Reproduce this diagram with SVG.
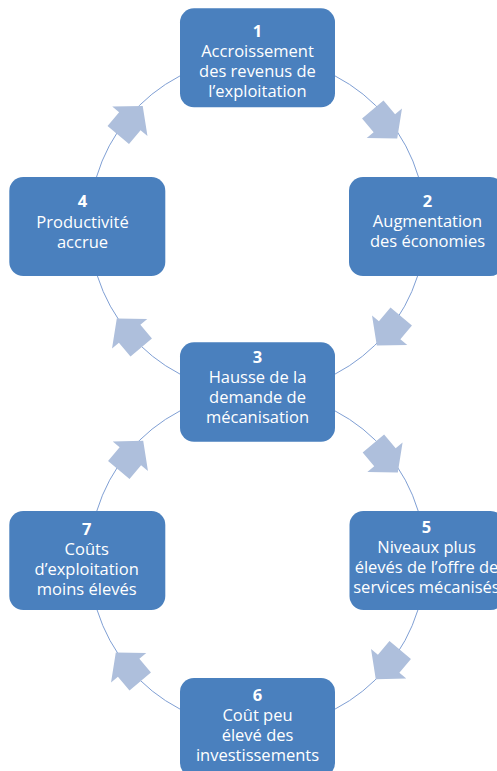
<svg xmlns="http://www.w3.org/2000/svg" xmlns:xlink="http://www.w3.org/1999/xlink" width="497" height="771" viewBox="0 0 497 771">
  <style>
    .box { fill: #4a80be; }
    .t { font-family: "Open Sans", "Noto Sans", "DejaVu Sans", sans-serif; font-size: 16.5px; fill: #ffffff; text-anchor: middle; }
    .n { font-weight: bold; }
    .arc { fill: none; stroke: #7f9fd4; stroke-width: 1; }
    .arr { fill: #aebfdc; }
  </style>
  <defs>
    <path id="arrow" class="arr" d="M19,0 L-1,-23 L-1,-14 L-19,-14 L-19,14 L-1,14 L-1,23 Z"/>
  </defs>
  <rect width="497" height="771" fill="#ffffff"/>

  <g id="connectors">
    <path class="arc" d="M335,75.9 A168,168 0 0,1 418.5,177"/>
    <path class="arc" d="M417.6,276 A168,168 0 0,1 335,374.1"/>
    <path class="arc" d="M180,374.1 A168,168 0 0,1 97.4,276"/>
    <path class="arc" d="M96.5,177 A168,168 0 0,1 180,75.9"/>
    <path class="arc" d="M335,410.9 A168,168 0 0,1 418.2,511"/>
    <path class="arc" d="M417.9,610 A168,168 0 0,1 335,709.1"/>
    <path class="arc" d="M180,709.1 A168,168 0 0,1 97.1,610"/>
    <path class="arc" d="M96.8,511 A168,168 0 0,1 180,410.9"/>
    <use xlink:href="#arrow" href="#arrow" transform="translate(385,124) rotate(50)"/>
    <use xlink:href="#arrow" href="#arrow" transform="translate(389,331) rotate(130)"/>
    <use xlink:href="#arrow" href="#arrow" transform="translate(129,333) rotate(-130)"/>
    <use xlink:href="#arrow" href="#arrow" transform="translate(130.5,120.5) rotate(-50)"/>
    <use xlink:href="#arrow" href="#arrow" transform="translate(385.6,458) rotate(50)"/>
    <use xlink:href="#arrow" href="#arrow" transform="translate(388,664.6) rotate(130)"/>
    <use xlink:href="#arrow" href="#arrow" transform="translate(128,667) rotate(-130)"/>
    <use xlink:href="#arrow" href="#arrow" transform="translate(131,455.4) rotate(-50)"/>
  </g>

  <g id="node1">
    <rect class="box" x="180" y="8.3" width="155" height="99" rx="14"/>
    <text class="t n" x="257.5" y="36.7">1</text>
    <text class="t" x="257.5" y="57">Accroissement</text>
    <text class="t" x="257.5" y="77">des revenus de</text>
    <text class="t" x="257.5" y="96.7">l’exploitation</text>
  </g>
  <g id="node2">
    <rect class="box" x="349" y="177" width="155" height="99" rx="14"/>
    <text class="t n" x="427.5" y="207.3">2</text>
    <text class="t" x="427.5" y="227.3">Augmentation</text>
    <text class="t" x="427.5" y="247.3">des économies</text>
  </g>
  <g id="node3">
    <rect class="box" x="180" y="342.3" width="155" height="99.5" rx="14"/>
    <text class="t n" x="257.5" y="363.3">3</text>
    <text class="t" x="257.5" y="383.3">Hausse de la</text>
    <text class="t" x="257.5" y="403.3">demande de</text>
    <text class="t" x="257.5" y="423.3">mécanisation</text>
  </g>
  <g id="node4">
    <rect class="box" x="9.3" y="177" width="156" height="99" rx="14"/>
    <text class="t n" x="82.5" y="207.3">4</text>
    <text class="t" x="82.5" y="228">Productivité</text>
    <text class="t" x="82.5" y="248">accrue</text>
  </g>
  <g id="node5">
    <rect class="box" x="349.5" y="511" width="155" height="99" rx="14"/>
    <text class="t n" x="426.5" y="533.3">5</text>
    <text class="t" x="426.5" y="553.3">Niveaux plus</text>
    <text class="t" x="426.5" y="573.3">élevés de l’offre de</text>
    <text class="t" x="426.5" y="593.3">services mécanisés</text>
  </g>
  <g id="node6">
    <rect class="box" x="180" y="678" width="155" height="99" rx="14"/>
    <text class="t n" x="257.5" y="700.7">6</text>
    <text class="t" x="257.5" y="721">Coût peu</text>
    <text class="t" x="257.5" y="741">élevé des</text>
    <text class="t" x="257.5" y="761">investissements</text>
  </g>
  <g id="node7">
    <rect class="box" x="9.3" y="511" width="156" height="99" rx="14"/>
    <text class="t n" x="86.7" y="535">7</text>
    <text class="t" x="86.7" y="555">Coûts</text>
    <text class="t" x="86.7" y="575">d’exploitation</text>
    <text class="t" x="86.7" y="595">moins élevés</text>
  </g>
</svg>
